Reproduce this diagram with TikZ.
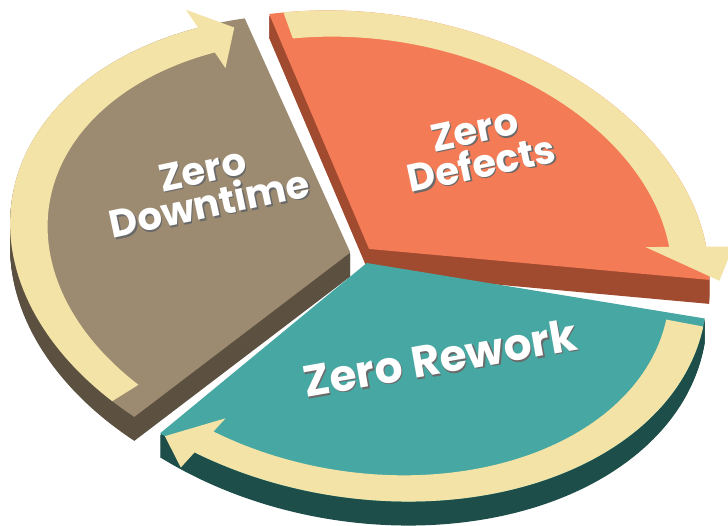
\documentclass[tikz,border=0pt]{standalone}
\usepackage{fontspec}
\newfontfamily\slicefont{Poppins}
\usetikzlibrary{positioning}
\definecolor{ringyellow}{HTML}{F4E3A6}
\definecolor{defectorange}{HTML}{F37B55}
\definecolor{defectside}{HTML}{A04A30}
\definecolor{downbrown}{HTML}{9C8B70}
\definecolor{downside}{HTML}{5C5040}
\definecolor{reworkteal}{HTML}{47A8A3}
\definecolor{reworkside}{HTML}{1E4E4A}
\definecolor{labelshadow}{HTML}{6A6A6A}
\tikzset{
  pieframe/.style={cm={3.38,-0.555,0.38,2.32,(3.62,#1)}},
  slicelabel/.style={font=\slicefont\bfseries\fontsize{11}{10}\selectfont, align=center, text=white, rotate=12, inner sep=0pt},
  biglabel/.style={font=\slicefont\bfseries\fontsize{12.5}{12}\selectfont, text=white, rotate=10, inner sep=0pt}
}

\begin{document}
\begin{tikzpicture}
    \useasboundingbox (0,0) rectangle (7.28,5.25);

    % slices: side first, then top
    \foreach \a/\b/\bis/\topcol/\sidecol in {6/113.5/60/defectorange/defectside,
        114.5/237/176/downbrown/downside, 239/360/300/reworkteal/reworkside}{
      \foreach \d in {0.24,0.23,...,0.01}{
        \fill[\sidecol, pieframe=2.70-\d, shift={(\bis:0.035)}]
          (0,0) -- (\a:1) arc[start angle=\a, end angle=\b, radius=1] -- cycle;
      }
      \fill[\topcol, pieframe=2.70, shift={(\bis:0.035)}]
        (0,0) -- (\a:1) arc[start angle=\a, end angle=\b, radius=1] -- cycle;
    }

    % ring arrows
    \foreach \tail/\neck/\tip/\tipr/\bis in {232/123/117/0.97/176,
        111/14/6/1.03/60, 358/246/240/1.0/300}{
      \fill[ringyellow, pieframe=2.70, shift={(\bis:0.035)}]
        (\tail:0.89) arc[start angle=\tail, end angle=\neck, radius=0.89]
        -- (\neck:0.82) -- (\tip:\tipr) -- (\neck:1.08) -- (\neck:1)
        arc[start angle=\neck, end angle=\tail, radius=1] -- cycle;
    }

    \node[slicelabel, text=labelshadow] (downtimeshadow) at (2.075,3.365) {Zero\\Downtime};
    \node[slicelabel] (downtime) at (2.06,3.38) {Zero\\Downtime};
    \node[slicelabel, text=labelshadow] (defectsshadow) at (4.795,3.765) {Zero\\Defects};
    \node[slicelabel] (defects) at (4.78,3.78) {Zero\\Defects};
    \node[biglabel, text=labelshadow] (reworkshadow) at (4.415,1.655) {Zero Rework};
    \node[biglabel] (rework) at (4.40,1.67) {Zero Rework};
\end{tikzpicture}
\end{document}
